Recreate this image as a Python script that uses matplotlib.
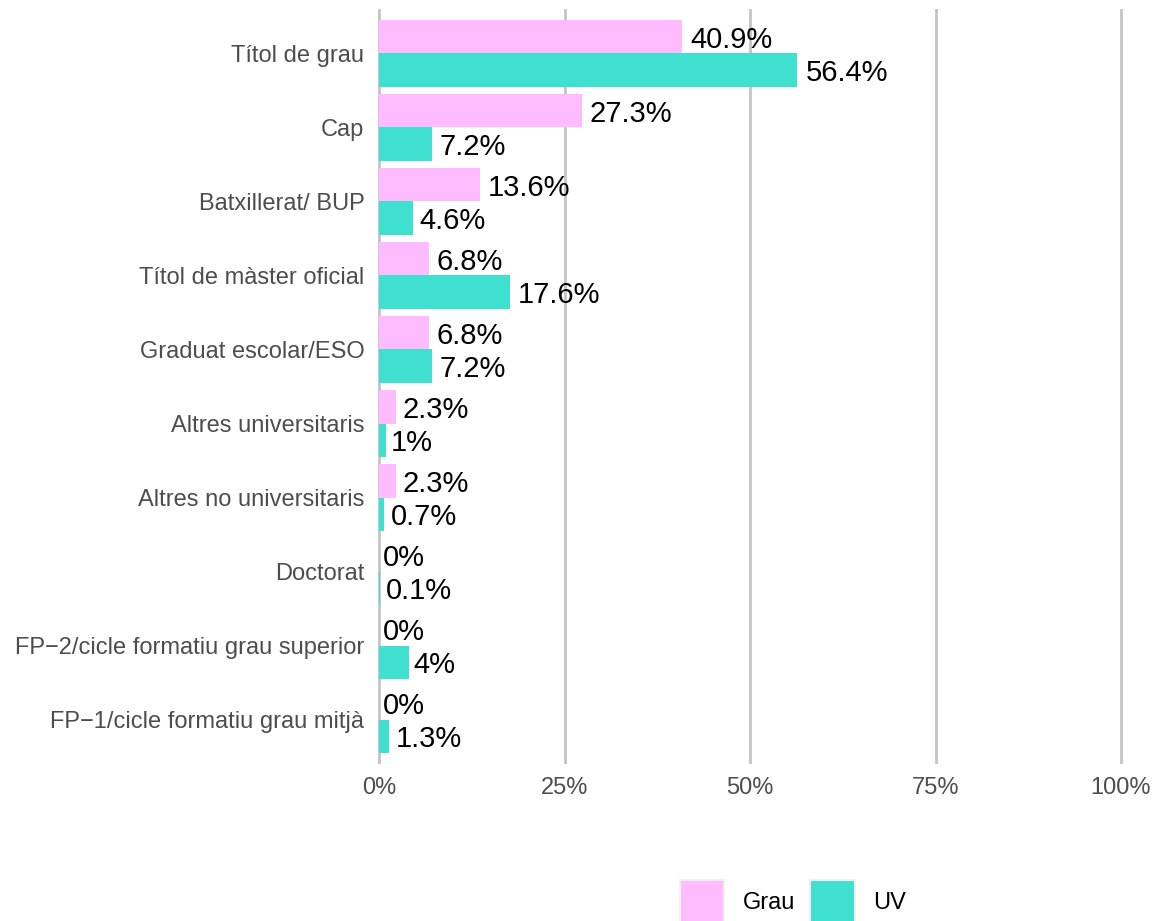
import matplotlib.pyplot as plt
import numpy as np
from matplotlib.patches import Patch
import matplotlib.transforms as mtransforms

plt.rcParams['font.family'] = ['Liberation Sans', 'DejaVu Sans']

# data (top to bottom)
categories = ["Títol de grau", "Cap", "Batxillerat/ BUP", "Títol de màster oficial",
              "Graduat escolar/ESO", "Altres universitaris", "Altres no universitaris",
              "Doctorat", "FP\u22122/cicle formatiu grau superior",
              "FP\u22121/cicle formatiu grau mitjà"]
grau = [40.9, 27.3, 13.6, 6.8, 6.8, 2.3, 2.3, 0, 0, 0]
uv = [56.4, 7.2, 4.6, 17.6, 7.2, 1.0, 0.7, 0.1, 4.0, 1.3]
series_names = ["Grau", "UV"]
colors = ["#FFBBFF", "#40E0D0"]

fig = plt.figure(figsize=(11.58, 9.21), dpi=100)
ax = fig.add_axes([370/1158, 1-764/921, 760/1158, 755/921])

y = np.arange(len(categories))
h = 0.45
texts = []
for vals, off, col in [(grau, -h/2, colors[0]), (uv, h/2, colors[1])]:
    ax.barh(y + off, np.array(vals)/100, height=h, color=col, zorder=2)
    for yi, v in zip(y, vals):
        t = ax.text(v/100, yi + off, f"{v:g}%", ha="left", va="center_baseline",
                    fontsize=21, color="black", zorder=3)
        texts.append(t)

ax.set_xlim(-9/742, 751/742)
ax.set_ylim(9.6, -0.6)
ax.set_xticks([0, 0.25, 0.5, 0.75, 1.0])
ax.set_xticklabels(["0%", "25%", "50%", "75%", "100%"])
ax.set_yticks(y)
ax.set_yticklabels(categories)
ax.tick_params(axis="x", length=0, labelsize=17, labelcolor="#4D4D4D", pad=9)
ax.tick_params(axis="y", length=0, labelsize=17, labelcolor="#4D4D4D", pad=4)
ax.grid(axis="x", color="#C4C4C4", linewidth=2, zorder=0)
for s in ax.spines.values():
    s.set_visible(False)

# hjust-like offset: shift each label by 10% of its width
fig.canvas.draw()
r = fig.canvas.get_renderer()
for t in texts:
    w = t.get_window_extent(r).width
    t.set_transform(ax.transData + mtransforms.ScaledTranslation(0.1*w/100, 0, fig.dpi_scale_trans))

handles = [Patch(facecolor=c, edgecolor="#F0F0F0", linewidth=1.5) for c in colors]
fig.legend(handles, series_names, loc="center", bbox_to_anchor=(793/1158, 19/921),
           ncol=2, frameon=False, fontsize=17, handlelength=1.9, handleheight=2.55,
           columnspacing=0.6, handletextpad=0.8, borderpad=0)

plt.savefig("out.png", dpi=100)
